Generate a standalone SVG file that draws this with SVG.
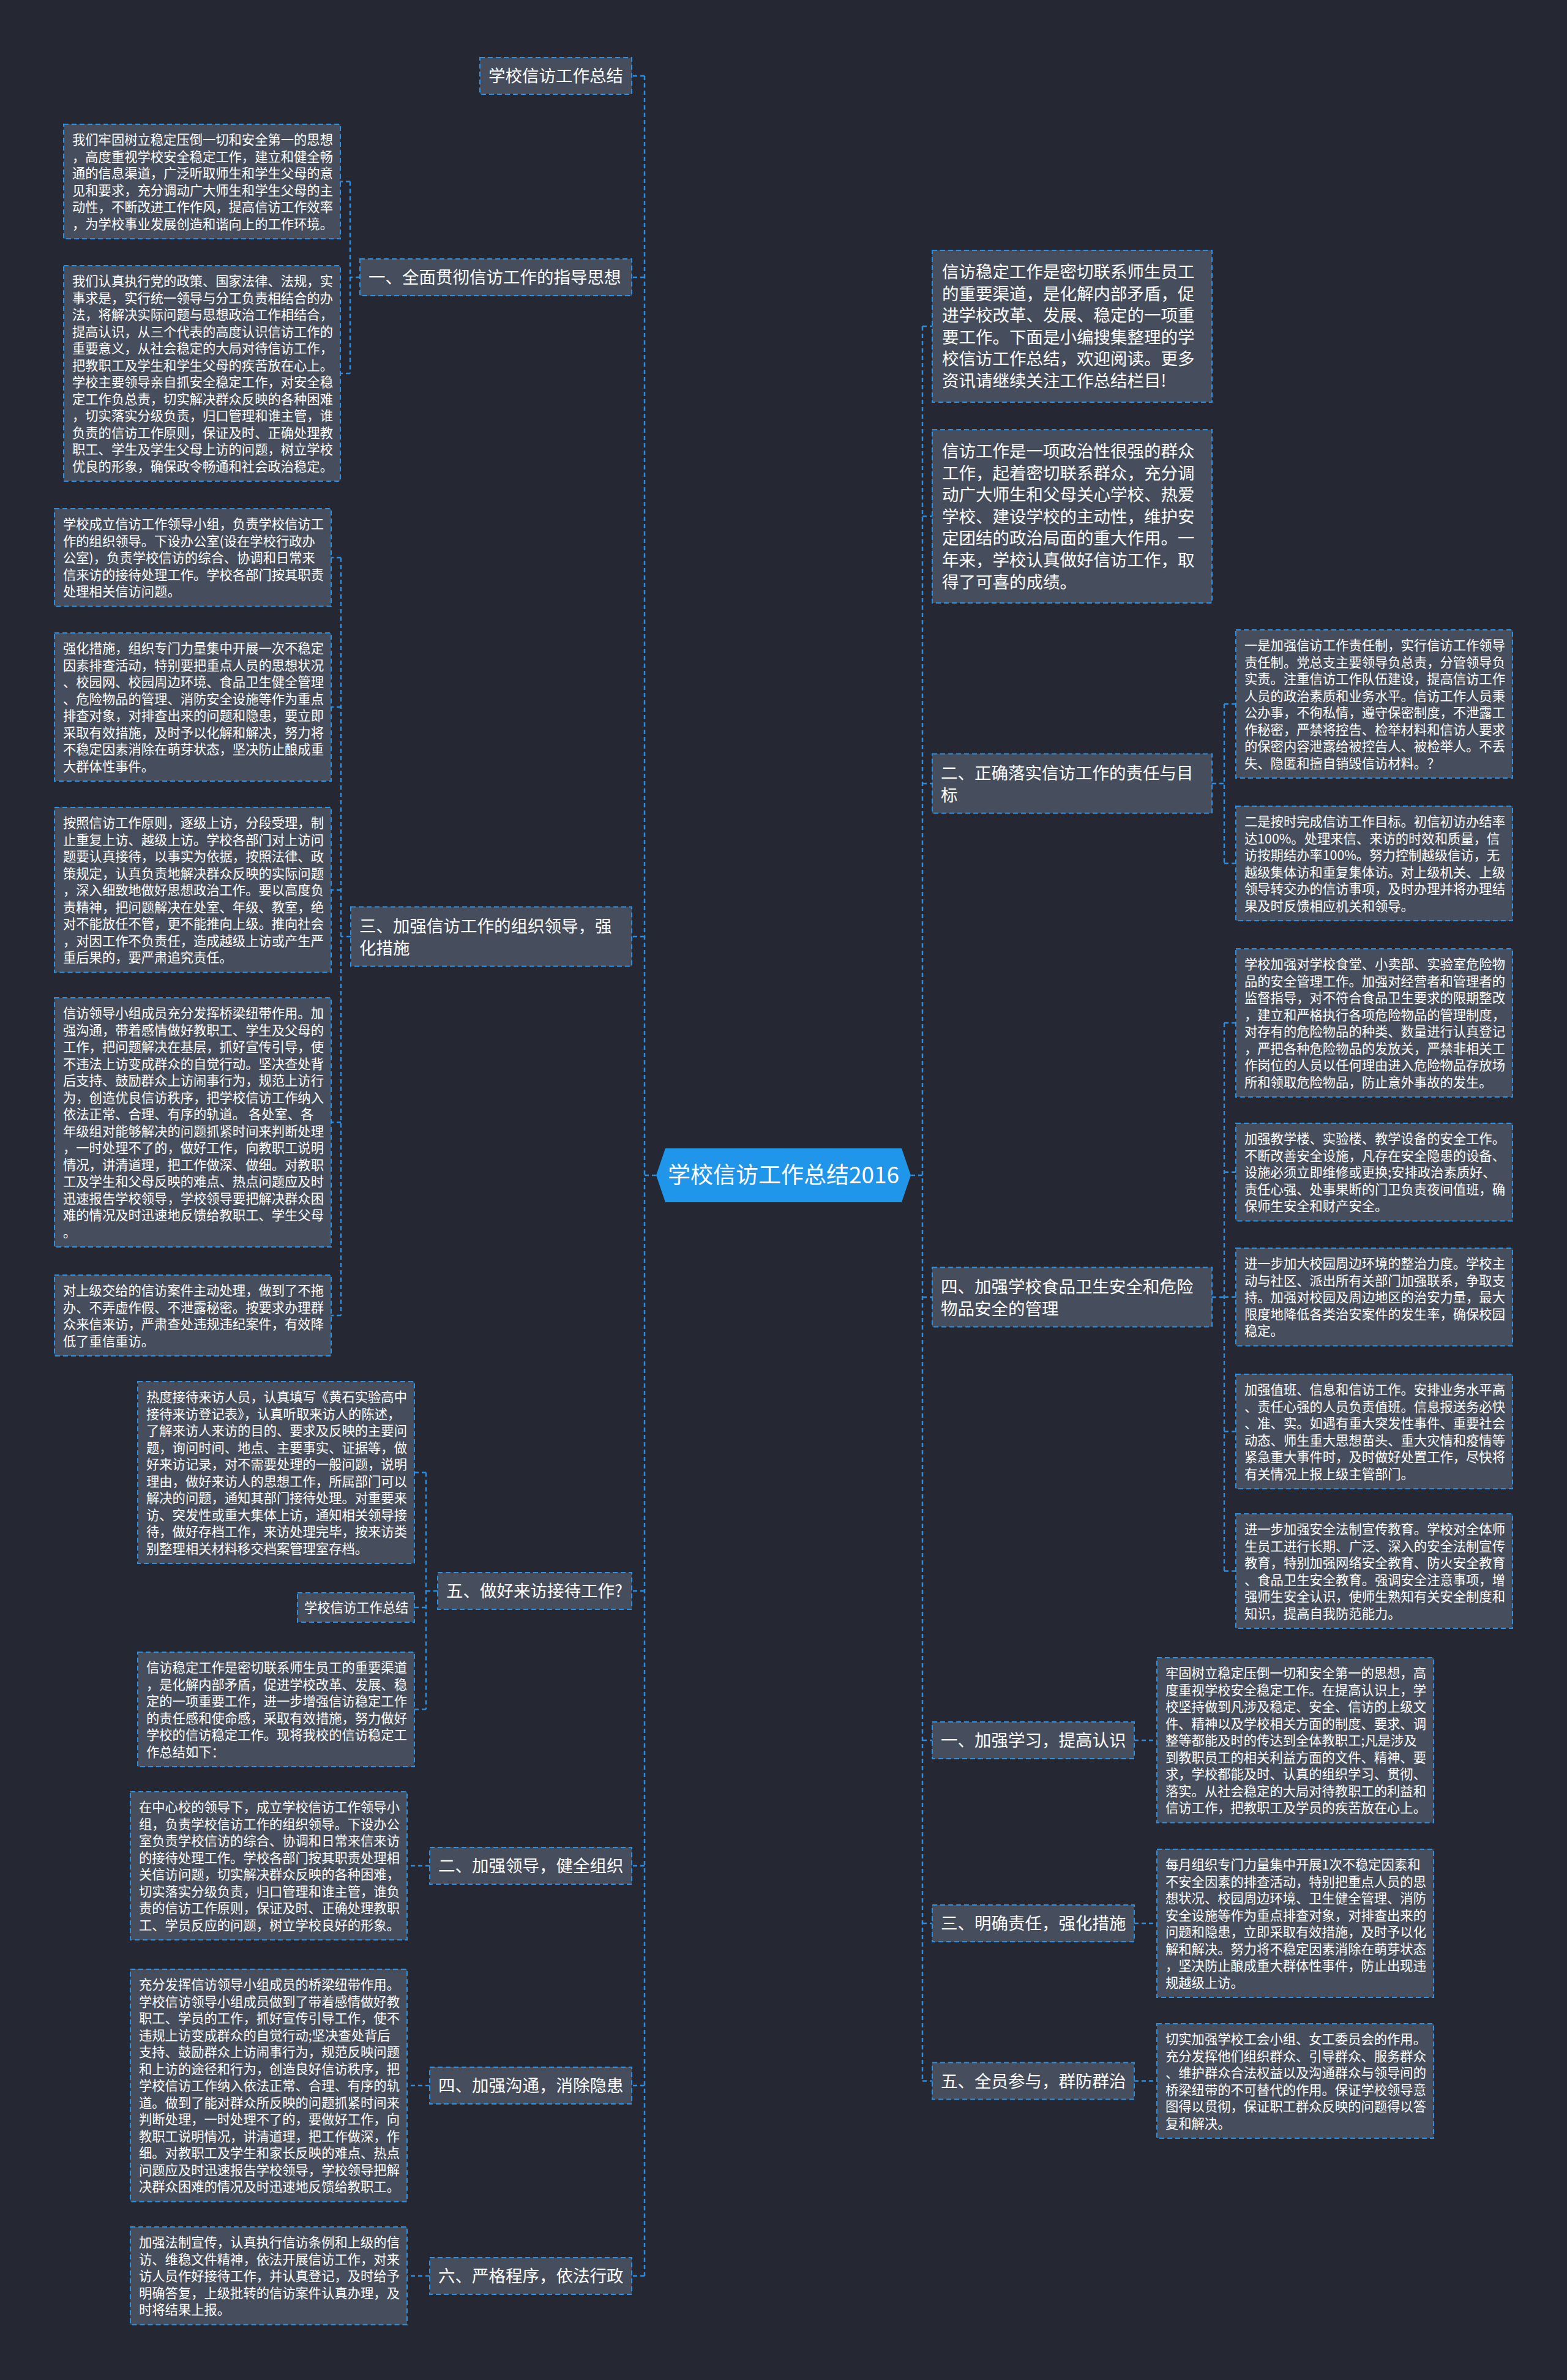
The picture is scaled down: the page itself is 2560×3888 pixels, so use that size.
<svg xmlns="http://www.w3.org/2000/svg" width="2560" height="3888" viewBox="0 0 2560 3888">
<style>
.box{fill:#464d5c;stroke:#2f90e0;stroke-width:2;stroke-dasharray:8 5}
.t{fill:#ffffff;font-family:"Noto Sans CJK SC","Noto Sans",sans-serif}
.s{font-size:21.3px}
.m{font-size:27.5px}
.c{fill:none;stroke:#2b8de0;stroke-width:2.5;stroke-dasharray:7 5}
</style>
<rect width="2560" height="3888" fill="#252833"/>
<g id="connectors">
<path class="c" d="M1072,1920 H1053 M1053,124 V3718 M1053,124 H1032 M1053,453 H1032 M1053,1530 H1032 M1053,2599 H1032 M1053,3048 H1032 M1053,3407 H1032 M1053,3718 H1032"/>
<path class="c" d="M1488,1920 H1507 M1507,533 V3399.5 M1507,533 H1523 M1507,843.5 H1523 M1507,1280 H1523 M1507,2119 H1523 M1507,2843 H1523 M1507,3142 H1523 M1507,3399.5 H1523"/>
<path class="c" d="M588,453 H572 M572,296.5 V610 M572,296.5 H556 M572,610 H556"/>
<path class="c" d="M573,1530 H557 M557,911 V2149 M557,911 H541 M557,1155 H541 M557,1453.75 H541 M557,1833.5 H541 M557,2149 H541"/>
<path class="c" d="M715,2599 H696 M696,2405.5 V2792.5 M696,2405.5 H677 M696,2626 H677 M696,2792.5 H677"/>
<path class="c" d="M702,3048 H665 M702,3407 H665 M702,3718 H665"/>
<path class="c" d="M1980,1280 H2000 M2000,1150 V1410.5 M2000,1150 H2019 M2000,1410.5 H2019"/>
<path class="c" d="M1980,2119 H2000 M2000,1671 V2566.5 M2000,1671 H2019 M2000,1914.75 H2019 M2000,2118.75 H2019 M2000,2338.5 H2019 M2000,2566.5 H2019"/>
<path class="c" d="M1853,2843 H1890 M1853,3142 H1890 M1853,3399.5 H1890"/>
</g>
<g id="center">
<polygon points="1072,1920 1087,1876 1473,1876 1488,1920 1473,1964 1087,1964" fill="#1f96ea"/>
<text class="t" x="1280" y="1933" font-size="37" text-anchor="middle">学校信访工作总结2016</text>
</g>
<g id="n1"><rect class="box" x="784" y="94" width="248" height="60"/><text class="t m" x="798" y="134">学校信访工作总结</text></g>
<g id="n2"><rect class="box" x="588" y="423" width="444" height="60"/><text class="t m" x="602" y="463">一、全面贯彻信访工作的指导思想</text></g>
<g id="n3"><rect class="box" x="573" y="1481.5" width="459" height="97"/><text class="t m" x="587" y="1523"><tspan x="587">三、加强信访工作的组织领导，强</tspan><tspan x="587" dy="35.6">化措施</tspan></text></g>
<g id="n4"><rect class="box" x="715" y="2569" width="317" height="60"/><text class="t m" x="729" y="2609">五、做好来访接待工作?</text></g>
<g id="n5"><rect class="box" x="702" y="3018" width="330" height="60"/><text class="t m" x="716" y="3058">二、加强领导，健全组织</text></g>
<g id="n6"><rect class="box" x="702" y="3377" width="330" height="60"/><text class="t m" x="716" y="3417">四、加强沟通，消除隐患</text></g>
<g id="n7"><rect class="box" x="702" y="3688" width="330" height="60"/><text class="t m" x="716" y="3728">六、严格程序，依法行政</text></g>
<g id="r1"><rect class="box" x="1523" y="409" width="457" height="248"/><text class="t m" x="1539" y="454"><tspan x="1539">信访稳定工作是密切联系师生员工</tspan><tspan x="1539" dy="35.6">的重要渠道，是化解内部矛盾，促</tspan><tspan x="1539" dy="35.6">进学校改革、发展、稳定的一项重</tspan><tspan x="1539" dy="35.6">要工作。下面是小编搜集整理的学</tspan><tspan x="1539" dy="35.6">校信访工作总结，欢迎阅读。更多</tspan><tspan x="1539" dy="35.6">资讯请继续关注工作总结栏目!</tspan></text></g>
<g id="r2"><rect class="box" x="1523" y="702" width="457" height="283"/><text class="t m" x="1539" y="747"><tspan x="1539">信访工作是一项政治性很强的群众</tspan><tspan x="1539" dy="35.6">工作，起着密切联系群众，充分调</tspan><tspan x="1539" dy="35.6">动广大师生和父母关心学校、热爱</tspan><tspan x="1539" dy="35.6">学校、建设学校的主动性，维护安</tspan><tspan x="1539" dy="35.6">定团结的政治局面的重大作用。一</tspan><tspan x="1539" dy="35.6">年来，学校认真做好信访工作，取</tspan><tspan x="1539" dy="35.6">得了可喜的成绩。</tspan></text></g>
<g id="r3"><rect class="box" x="1523" y="1231.5" width="457" height="97"/><text class="t m" x="1537" y="1273"><tspan x="1537">二、正确落实信访工作的责任与目</tspan><tspan x="1537" dy="35.6">标</tspan></text></g>
<g id="r4"><rect class="box" x="1523" y="2070.5" width="457" height="97"/><text class="t m" x="1537" y="2112"><tspan x="1537">四、加强学校食品卫生安全和危险</tspan><tspan x="1537" dy="35.6">物品安全的管理</tspan></text></g>
<g id="r5"><rect class="box" x="1523" y="2813" width="330" height="60"/><text class="t m" x="1537" y="2853">一、加强学习，提高认识</text></g>
<g id="r6"><rect class="box" x="1523" y="3112" width="330" height="60"/><text class="t m" x="1537" y="3152">三、明确责任，强化措施</text></g>
<g id="r7"><rect class="box" x="1523" y="3369.5" width="330" height="60"/><text class="t m" x="1537" y="3409.5">五、全员参与，群防群治</text></g>
<g id="c2a"><rect class="box" x="104" y="203" width="452" height="187"/><text class="t s" x="118" y="236"><tspan x="118">我们牢固树立稳定压倒一切和安全第一的思想</tspan><tspan x="118" dy="27.5">，高度重视学校安全稳定工作，建立和健全畅</tspan><tspan x="118" dy="27.5">通的信息渠道，广泛听取师生和学生父母的意</tspan><tspan x="118" dy="27.5">见和要求，充分调动广大师生和学生父母的主</tspan><tspan x="118" dy="27.5">动性，不断改进工作作风，提高信访工作效率</tspan><tspan x="118" dy="27.5">，为学校事业发展创造和谐向上的工作环境。</tspan></text></g>
<g id="c2b"><rect class="box" x="104" y="434" width="452" height="352"/><text class="t s" x="118" y="467"><tspan x="118">我们认真执行党的政策、国家法律、法规，实</tspan><tspan x="118" dy="27.5">事求是，实行统一领导与分工负责相结合的办</tspan><tspan x="118" dy="27.5">法，将解决实际问题与思想政治工作相结合，</tspan><tspan x="118" dy="27.5">提高认识，从三个代表的高度认识信访工作的</tspan><tspan x="118" dy="27.5">重要意义，从社会稳定的大局对待信访工作，</tspan><tspan x="118" dy="27.5">把教职工及学生和学生父母的疾苦放在心上。</tspan><tspan x="118" dy="27.5">学校主要领导亲自抓安全稳定工作，对安全稳</tspan><tspan x="118" dy="27.5">定工作负总责，切实解决群众反映的各种困难</tspan><tspan x="118" dy="27.5">，切实落实分级负责，归口管理和谁主管，谁</tspan><tspan x="118" dy="27.5">负责的信访工作原则，保证及时、正确处理教</tspan><tspan x="118" dy="27.5">职工、学生及学生父母上访的问题，树立学校</tspan><tspan x="118" dy="27.5">优良的形象，确保政令畅通和社会政治稳定。</tspan></text></g>
<g id="c3a"><rect class="box" x="89" y="831" width="452" height="159.5"/><text class="t s" x="103" y="864"><tspan x="103">学校成立信访工作领导小组，负责学校信访工</tspan><tspan x="103" dy="27.5">作的组织领导。下设办公室(设在学校行政办</tspan><tspan x="103" dy="27.5">公室)，负责学校信访的综合、协调和日常来</tspan><tspan x="103" dy="27.5">信来访的接待处理工作。学校各部门按其职责</tspan><tspan x="103" dy="27.5">处理相关信访问题。</tspan></text></g>
<g id="c3b"><rect class="box" x="89" y="1034" width="452" height="242"/><text class="t s" x="103" y="1067"><tspan x="103">强化措施，组织专门力量集中开展一次不稳定</tspan><tspan x="103" dy="27.5">因素排查活动，特别要把重点人员的思想状况</tspan><tspan x="103" dy="27.5">、校园网、校园周边环境、食品卫生健全管理</tspan><tspan x="103" dy="27.5">、危险物品的管理、消防安全设施等作为重点</tspan><tspan x="103" dy="27.5">排查对象，对排查出来的问题和隐患，要立即</tspan><tspan x="103" dy="27.5">采取有效措施，及时予以化解和解决，努力将</tspan><tspan x="103" dy="27.5">不稳定因素消除在萌芽状态，坚决防止酿成重</tspan><tspan x="103" dy="27.5">大群体性事件。</tspan></text></g>
<g id="c3c"><rect class="box" x="89" y="1319" width="452" height="269.5"/><text class="t s" x="103" y="1352"><tspan x="103">按照信访工作原则，逐级上访，分段受理，制</tspan><tspan x="103" dy="27.5">止重复上访、越级上访。学校各部门对上访问</tspan><tspan x="103" dy="27.5">题要认真接待，以事实为依据，按照法律、政</tspan><tspan x="103" dy="27.5">策规定，认真负责地解决群众反映的实际问题</tspan><tspan x="103" dy="27.5">，深入细致地做好思想政治工作。要以高度负</tspan><tspan x="103" dy="27.5">责精神，把问题解决在处室、年级、教室，绝</tspan><tspan x="103" dy="27.5">对不能放任不管，更不能推向上级。推向社会</tspan><tspan x="103" dy="27.5">，对因工作不负责任，造成越级上访或产生严</tspan><tspan x="103" dy="27.5">重后果的，要严肃追究责任。</tspan></text></g>
<g id="c3d"><rect class="box" x="89" y="1630" width="452" height="407"/><text class="t s" x="103" y="1663"><tspan x="103">信访领导小组成员充分发挥桥梁纽带作用。加</tspan><tspan x="103" dy="27.5">强沟通，带着感情做好教职工、学生及父母的</tspan><tspan x="103" dy="27.5">工作，把问题解决在基层，抓好宣传引导，使</tspan><tspan x="103" dy="27.5">不违法上访变成群众的自觉行动。坚决查处背</tspan><tspan x="103" dy="27.5">后支持、鼓励群众上访闹事行为，规范上访行</tspan><tspan x="103" dy="27.5">为，创造优良信访秩序，把学校信访工作纳入</tspan><tspan x="103" dy="27.5">依法正常、合理、有序的轨道。 各处室、各</tspan><tspan x="103" dy="27.5">年级组对能够解决的问题抓紧时间来判断处理</tspan><tspan x="103" dy="27.5">，一时处理不了的，做好工作，向教职工说明</tspan><tspan x="103" dy="27.5">情况，讲清道理，把工作做深、做细。对教职</tspan><tspan x="103" dy="27.5">工及学生和父母反映的难点、热点问题应及时</tspan><tspan x="103" dy="27.5">迅速报告学校领导，学校领导要把解决群众困</tspan><tspan x="103" dy="27.5">难的情况及时迅速地反馈给教职工、学生父母</tspan><tspan x="103" dy="27.5">。</tspan></text></g>
<g id="c3e"><rect class="box" x="89" y="2083" width="452" height="132"/><text class="t s" x="103" y="2116"><tspan x="103">对上级交给的信访案件主动处理，做到了不拖</tspan><tspan x="103" dy="27.5">办、不弄虚作假、不泄露秘密。按要求办理群</tspan><tspan x="103" dy="27.5">众来信来访，严肃查处违规违纪案件，有效降</tspan><tspan x="103" dy="27.5">低了重信重访。</tspan></text></g>
<g id="c4a"><rect class="box" x="225" y="2257" width="452" height="297"/><text class="t s" x="239" y="2290"><tspan x="239">热度接待来访人员，认真填写《黄石实验高中</tspan><tspan x="239" dy="27.5">接待来访登记表》，认真听取来访人的陈述，</tspan><tspan x="239" dy="27.5">了解来访人来访的目的、要求及反映的主要问</tspan><tspan x="239" dy="27.5">题，询问时间、地点、主要事实、证据等，做</tspan><tspan x="239" dy="27.5">好来访记录，对不需要处理的一般问题，说明</tspan><tspan x="239" dy="27.5">理由，做好来访人的思想工作，所属部门可以</tspan><tspan x="239" dy="27.5">解决的问题，通知其部门接待处理。对重要来</tspan><tspan x="239" dy="27.5">访、突发性或重大集体上访，通知相关领导接</tspan><tspan x="239" dy="27.5">待，做好存档工作，来访处理完毕，按来访类</tspan><tspan x="239" dy="27.5">别整理相关材料移交档案管理室存档。</tspan></text></g>
<g id="c4b"><rect class="box" x="486" y="2602" width="191" height="48"/><text class="t s" x="497" y="2633.5">学校信访工作总结</text></g>
<g id="c4c"><rect class="box" x="225" y="2699" width="452" height="187"/><text class="t s" x="239" y="2732"><tspan x="239">信访稳定工作是密切联系师生员工的重要渠道</tspan><tspan x="239" dy="27.5">，是化解内部矛盾，促进学校改革、发展、稳</tspan><tspan x="239" dy="27.5">定的一项重要工作，进一步增强信访稳定工作</tspan><tspan x="239" dy="27.5">的责任感和使命感，采取有效措施，努力做好</tspan><tspan x="239" dy="27.5">学校的信访稳定工作。现将我校的信访稳定工</tspan><tspan x="239" dy="27.5">作总结如下：</tspan></text></g>
<g id="c5a"><rect class="box" x="213" y="2927" width="452" height="242"/><text class="t s" x="227" y="2960"><tspan x="227">在中心校的领导下，成立学校信访工作领导小</tspan><tspan x="227" dy="27.5">组，负责学校信访工作的组织领导。下设办公</tspan><tspan x="227" dy="27.5">室负责学校信访的综合、协调和日常来信来访</tspan><tspan x="227" dy="27.5">的接待处理工作。学校各部门按其职责处理相</tspan><tspan x="227" dy="27.5">关信访问题，切实解决群众反映的各种困难，</tspan><tspan x="227" dy="27.5">切实落实分级负责，归口管理和谁主管，谁负</tspan><tspan x="227" dy="27.5">责的信访工作原则，保证及时、正确处理教职</tspan><tspan x="227" dy="27.5">工、学员反应的问题，树立学校良好的形象。</tspan></text></g>
<g id="c6a"><rect class="box" x="213" y="3217" width="452" height="379.5"/><text class="t s" x="227" y="3250"><tspan x="227">充分发挥信访领导小组成员的桥梁纽带作用。</tspan><tspan x="227" dy="27.5">学校信访领导小组成员做到了带着感情做好教</tspan><tspan x="227" dy="27.5">职工、学员的工作，抓好宣传引导工作，使不</tspan><tspan x="227" dy="27.5">违规上访变成群众的自觉行动;坚决查处背后</tspan><tspan x="227" dy="27.5">支持、鼓励群众上访闹事行为，规范反映问题</tspan><tspan x="227" dy="27.5">和上访的途径和行为，创造良好信访秩序，把</tspan><tspan x="227" dy="27.5">学校信访工作纳入依法正常、合理、有序的轨</tspan><tspan x="227" dy="27.5">道。做到了能对群众所反映的问题抓紧时间来</tspan><tspan x="227" dy="27.5">判断处理，一时处理不了的，要做好工作，向</tspan><tspan x="227" dy="27.5">教职工说明情况，讲清道理，把工作做深，作</tspan><tspan x="227" dy="27.5">细。对教职工及学生和家长反映的难点、热点</tspan><tspan x="227" dy="27.5">问题应及时迅速报告学校领导，学校领导把解</tspan><tspan x="227" dy="27.5">决群众困难的情况及时迅速地反馈给教职工。</tspan></text></g>
<g id="c7a"><rect class="box" x="213" y="3638" width="452" height="159.5"/><text class="t s" x="227" y="3671"><tspan x="227">加强法制宣传，认真执行信访条例和上级的信</tspan><tspan x="227" dy="27.5">访、维稳文件精神，依法开展信访工作，对来</tspan><tspan x="227" dy="27.5">访人员作好接待工作，并认真登记，及时给予</tspan><tspan x="227" dy="27.5">明确答复，上级批转的信访案件认真办理，及</tspan><tspan x="227" dy="27.5">时将结果上报。</tspan></text></g>
<g id="r3a"><rect class="box" x="2019" y="1029" width="452" height="242"/><text class="t s" x="2033" y="1062"><tspan x="2033">一是加强信访工作责任制，实行信访工作领导</tspan><tspan x="2033" dy="27.5">责任制。党总支主要领导负总责，分管领导负</tspan><tspan x="2033" dy="27.5">实责。注重信访工作队伍建设，提高信访工作</tspan><tspan x="2033" dy="27.5">人员的政治素质和业务水平。信访工作人员秉</tspan><tspan x="2033" dy="27.5">公办事，不徇私情，遵守保密制度，不泄露工</tspan><tspan x="2033" dy="27.5">作秘密，严禁将控告、检举材料和信访人要求</tspan><tspan x="2033" dy="27.5">的保密内容泄露给被控告人、被检举人。不丢</tspan><tspan x="2033" dy="27.5">失、隐匿和擅自销毁信访材料。？</tspan></text></g>
<g id="r3b"><rect class="box" x="2019" y="1317" width="452" height="187"/><text class="t s" x="2033" y="1350"><tspan x="2033">二是按时完成信访工作目标。初信初访办结率</tspan><tspan x="2033" dy="27.5">达100%。处理来信、来访的时效和质量，信</tspan><tspan x="2033" dy="27.5">访按期结办率100%。努力控制越级信访，无</tspan><tspan x="2033" dy="27.5">越级集体访和重复集体访。对上级机关、上级</tspan><tspan x="2033" dy="27.5">领导转交办的信访事项，及时办理并将办理结</tspan><tspan x="2033" dy="27.5">果及时反馈相应机关和领导。</tspan></text></g>
<g id="r4a"><rect class="box" x="2019" y="1550" width="452" height="242"/><text class="t s" x="2033" y="1583"><tspan x="2033">学校加强对学校食堂、小卖部、实验室危险物</tspan><tspan x="2033" dy="27.5">品的安全管理工作。加强对经营者和管理者的</tspan><tspan x="2033" dy="27.5">监督指导，对不符合食品卫生要求的限期整改</tspan><tspan x="2033" dy="27.5">，建立和严格执行各项危险物品的管理制度，</tspan><tspan x="2033" dy="27.5">对存有的危险物品的种类、数量进行认真登记</tspan><tspan x="2033" dy="27.5">，严把各种危险物品的发放关，严禁非相关工</tspan><tspan x="2033" dy="27.5">作岗位的人员以任何理由进入危险物品存放场</tspan><tspan x="2033" dy="27.5">所和领取危险物品，防止意外事故的发生。</tspan></text></g>
<g id="r4b"><rect class="box" x="2019" y="1835" width="452" height="159.5"/><text class="t s" x="2033" y="1868"><tspan x="2033">加强教学楼、实验楼、教学设备的安全工作。</tspan><tspan x="2033" dy="27.5">不断改善安全设施，凡存在安全隐患的设备、</tspan><tspan x="2033" dy="27.5">设施必须立即维修或更换;安排政治素质好、</tspan><tspan x="2033" dy="27.5">责任心强、处事果断的门卫负责夜间值班，确</tspan><tspan x="2033" dy="27.5">保师生安全和财产安全。</tspan></text></g>
<g id="r4c"><rect class="box" x="2019" y="2039" width="452" height="159.5"/><text class="t s" x="2033" y="2072"><tspan x="2033">进一步加大校园周边环境的整治力度。学校主</tspan><tspan x="2033" dy="27.5">动与社区、派出所有关部门加强联系，争取支</tspan><tspan x="2033" dy="27.5">持。加强对校园及周边地区的治安力量，最大</tspan><tspan x="2033" dy="27.5">限度地降低各类治安案件的发生率，确保校园</tspan><tspan x="2033" dy="27.5">稳定。</tspan></text></g>
<g id="r4d"><rect class="box" x="2019" y="2245" width="452" height="187"/><text class="t s" x="2033" y="2278"><tspan x="2033">加强值班、信息和信访工作。安排业务水平高</tspan><tspan x="2033" dy="27.5">、责任心强的人员负责值班。信息报送务必快</tspan><tspan x="2033" dy="27.5">、准、实。如遇有重大突发性事件、重要社会</tspan><tspan x="2033" dy="27.5">动态、师生重大思想苗头、重大灾情和疫情等</tspan><tspan x="2033" dy="27.5">紧急重大事件时，及时做好处置工作，尽快将</tspan><tspan x="2033" dy="27.5">有关情况上报上级主管部门。</tspan></text></g>
<g id="r4e"><rect class="box" x="2019" y="2473" width="452" height="187"/><text class="t s" x="2033" y="2506"><tspan x="2033">进一步加强安全法制宣传教育。学校对全体师</tspan><tspan x="2033" dy="27.5">生员工进行长期、广泛、深入的安全法制宣传</tspan><tspan x="2033" dy="27.5">教育，特别加强网络安全教育、防火安全教育</tspan><tspan x="2033" dy="27.5">、食品卫生安全教育。强调安全注意事项，增</tspan><tspan x="2033" dy="27.5">强师生安全认识，使师生熟知有关安全制度和</tspan><tspan x="2033" dy="27.5">知识，提高自我防范能力。</tspan></text></g>
<g id="r5a"><rect class="box" x="1890" y="2708" width="452" height="269.5"/><text class="t s" x="1904" y="2741"><tspan x="1904">牢固树立稳定压倒一切和安全第一的思想，高</tspan><tspan x="1904" dy="27.5">度重视学校安全稳定工作。在提高认识上，学</tspan><tspan x="1904" dy="27.5">校坚持做到凡涉及稳定、安全、信访的上级文</tspan><tspan x="1904" dy="27.5">件、精神以及学校相关方面的制度、要求、调</tspan><tspan x="1904" dy="27.5">整等都能及时的传达到全体教职工;凡是涉及</tspan><tspan x="1904" dy="27.5">到教职员工的相关利益方面的文件、精神、要</tspan><tspan x="1904" dy="27.5">求，学校都能及时、认真的组织学习、贯彻、</tspan><tspan x="1904" dy="27.5">落实。从社会稳定的大局对待教职工的利益和</tspan><tspan x="1904" dy="27.5">信访工作，把教职工及学员的疾苦放在心上。</tspan></text></g>
<g id="r6a"><rect class="box" x="1890" y="3021" width="452" height="242"/><text class="t s" x="1904" y="3054"><tspan x="1904">每月组织专门力量集中开展1次不稳定因素和</tspan><tspan x="1904" dy="27.5">不安全因素的排查活动，特别把重点人员的思</tspan><tspan x="1904" dy="27.5">想状况、校园周边环境、卫生健全管理、消防</tspan><tspan x="1904" dy="27.5">安全设施等作为重点排查对象，对排查出来的</tspan><tspan x="1904" dy="27.5">问题和隐患，立即采取有效措施，及时予以化</tspan><tspan x="1904" dy="27.5">解和解决。努力将不稳定因素消除在萌芽状态</tspan><tspan x="1904" dy="27.5">，坚决防止酿成重大群体性事件，防止出现违</tspan><tspan x="1904" dy="27.5">规越级上访。</tspan></text></g>
<g id="r7a"><rect class="box" x="1890" y="3306" width="452" height="187"/><text class="t s" x="1904" y="3339"><tspan x="1904">切实加强学校工会小组、女工委员会的作用。</tspan><tspan x="1904" dy="27.5">充分发挥他们组织群众、引导群众、服务群众</tspan><tspan x="1904" dy="27.5">、维护群众合法权益以及沟通群众与领导间的</tspan><tspan x="1904" dy="27.5">桥梁纽带的不可替代的作用。保证学校领导意</tspan><tspan x="1904" dy="27.5">图得以贯彻，保证职工群众反映的问题得以答</tspan><tspan x="1904" dy="27.5">复和解决。</tspan></text></g>
</svg>
